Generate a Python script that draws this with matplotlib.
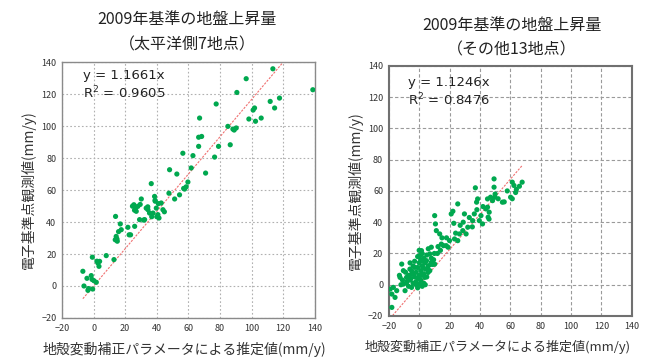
import matplotlib
matplotlib.use("Agg")
import matplotlib.pyplot as plt
import numpy as np

plt.rcParams['font.family'] = ['Noto Sans CJK JP', 'DejaVu Sans']

# left panel: Pacific side, 7 sites
pacific_x = [-6.8, -6.1, -4.2, -3.6, -1.5, -0.8, 0.2, -0.6, 1.7, 2.7, 3.8, 3.4, 8.0,
             12.9, 13.9, 14.3, 14.8, 15.0, 15.8, 16.9, 17.5, 21.7, 23.4, 26.0, 25.5,
             26.6, 27.0, 28.0, 30.2, 29.1, 32.3, 33.3, 34.4, 36.5, 35.4, 37.6, 38.6,
             39.0, 39.7, 40.7, 41.4, 42.8, 43.9, 44.8, 47.7, 48.1, 51.3, 52.7, 54.4,
             56.5, 57.6, 58.6, 59.7, 61.8, 62.9, 66.5, 66.5, 67.1, 68.4, 70.9, 76.6,
             77.6, 79.1, 85.0, 86.5, 88.2, 90.3, 90.7, 96.6, 98.3, 101.9, 102.5, 106.1,
             111.8, 113.5, 114.6, 117.7, 138.8, 24.6, 25.9, 29.5, 34.3, 38.9, 41.0,
             36.8, 40.0, 31.6, 22.5, 13.7, -1.0, -3.2, 2.1, 89.0, 101.0, 57.0]
pacific_y = [9.2, 0.0, 4.8, -2.7, 6.5, 18.0, 3.3, -1.9, 2.3, 14.4, 15.4, 12.3, 19.0,
             16.5, 43.5, 31.0, 29.4, 28.0, 34.0, 38.8, 35.2, 36.7, 32.0, 37.3, 50.8,
             48.7, 46.7, 49.8, 54.4, 41.5, 41.5, 48.7, 47.7, 64.0, 45.6, 45.6, 56.0,
             53.0, 48.7, 44.6, 42.5, 51.9, 47.7, 46.4, 58.0, 72.7, 54.4, 70.0, 57.0,
             83.0, 60.6, 62.0, 65.0, 73.8, 81.5, 87.3, 93.0, 105.0, 93.5, 70.6, 80.6,
             113.8, 87.3, 99.8, 88.3, 98.1, 98.8, 121.0, 129.6, 104.4, 111.3, 103.0, 105.0,
             115.4, 135.8, 111.3, 117.5, 122.7, 49.9, 47.4, 51.0, 49.5, 53.6, 51.5,
             43.3, 43.3, 41.2, 32.0, 28.9, 4.1, -1.6, 15.5, 97.5, 110.0, 61.0]

# right panel: other 13 sites
other_x = [49.3, 37.0, 61.3, 62.4, 67.8, 60.2, 63.5, 61.3, 54.8, 49.3, 49.8, 48.3,
           45.0, 45.0, 46.1, 45.4, 38.5, 37.8, 36.3, 35.2, 39.6, 40.7, 41.7, 43.9,
           29.8, 25.4, 22.2, 21.1, 22.8, 28.7, 30.9, 32.0, 26.5, 25.4, 23.3, 20.0,
           17.8, 14.6, 12.4, 10.7, 11.3, 13.5, 10.2, 7.0, 8.0, 10.2, 4.8, 2.6,
           1.5, 0.4, -2.8, -5.0, -6.1, -8.3, -10.4, -11.5, -12.6, -10.4, -9.3, -14.8,
           -17.0, -18.0, -15.9, -18.0, -19.1, -5.0, 0.4, 3.7, 5.9,
           -8.0, -7.0, -6.0, -5.0, -4.0, -4.0, -3.0, -3.0, -2.0, -2.0, -1.0, -1.0,
           0.0, 0.0, 0.0, 1.0, 1.0, 1.0, 2.0, 2.0, 3.0, 3.0, 4.0, 4.0, 5.0, 5.0,
           6.0, 6.0, 7.0, 8.0, 8.0, 9.0, 10.0, -9.0, -11.0, -12.0, -13.0, -7.0,
           -6.0, -2.0, -1.0, 2.0, 3.0, 4.0, 12.0, 14.0, 15.0, 16.0, 18.0, 19.0,
           24.0, 27.0, 29.0, 33.0, 35.0, 38.0, 42.0, 46.0, 47.0, 50.0, 52.0, 56.0,
           58.0, 64.0, 66.0, -3.5, -0.5, 1.5, 2.5, 5.5, 7.5, -5.5, -8.5, 9.5]
other_y = [67.7, 62.0, 65.6, 63.5, 65.6, 56.0, 59.0, 55.0, 52.8, 62.4, 56.0, 53.8,
           54.9, 49.6, 46.4, 43.2, 54.9, 52.8, 45.3, 41.0, 41.0, 44.2, 38.9, 48.5,
           45.3, 51.7, 47.0, 45.3, 39.3, 34.6, 32.5, 36.8, 32.5, 28.2, 29.3, 28.2,
           25.0, 26.0, 24.4, 38.9, 34.6, 32.5, 44.2, 19.7, 14.3, 13.2, 15.4, 11.1,
           21.8, 18.6, 11.1, 6.8, 10.0, 4.7, 9.0, 13.2, 4.7, 0.4, -3.8, -3.8,
           -1.7, -6.0, -8.1, -14.5, -2.8, -1.7, 0.4, 4.7, 7.9,
           2.0, 6.0, 3.0, 9.0, 1.0, 12.0, 5.0, 15.0, 8.0, 2.0, 11.0, 18.0,
           6.0, 14.0, 22.0, 9.0, 16.0, 3.0, 12.0, 20.0, 7.0, 17.0, 10.0, 14.0, 5.0, 19.0,
           12.0, 23.0, 9.0, 17.0, 24.0, 13.0, 20.0, 8.0, 3.0, 0.0, 6.0, -1.0,
           14.0, 0.0, -2.0, -1.0, 1.0, 0.0, 20.0, 22.0, 30.0, 25.0, 30.0, 24.0,
           33.0, 38.0, 40.0, 43.0, 37.0, 48.0, 50.0, 42.0, 56.0, 58.0, 55.0, 53.0,
           60.0, 61.0, 63.0, 7.0, 4.0, 6.0, 15.0, 10.0, 13.0, 4.0, 1.0, 16.0]

title_main = "2009年基準の地盤上昇量"
subtitles = ["（太平洋側7地点）", "（その他13地点）"]
slopes = [1.1661, 1.1246]
r2_values = ["0.9605", "0.8476"]
ticks = [-20, 0, 20, 40, 60, 80, 100, 120, 140]
xlabel = "地殻変動補正パラメータによる推定値(mm/y)"
ylabel = "電子基準点観測値(mm/y)"

GREEN = "#00a84f"
TREND = "#f07070"

fig = plt.figure(figsize=(6.48, 3.63), dpi=100)
ax_left = fig.add_axes([0.0957, 0.124, 0.390, 0.705])
ax_right = fig.add_axes([0.600, 0.1295, 0.375, 0.689])

# axes, data, index, grid style, grid colour, frame colour, frame width,
# equation x/y (axes fraction), x-label size, x-label centre
panels = [
    (ax_left, pacific_x, pacific_y, 0, (0, (1.5, 2.0)), "#b0b0b0", "#8a8a8a", 1.0,
     0.082, 0.949, 10, 0.485),
    (ax_right, other_x, other_y, 1, (0, (3.0, 2.0)), "#9a9a9a", "#707070", 1.5,
     0.078, 0.932, 9.4, 0.45),
]

for ax, xs, ys, i, grid_ls, grid_c, frame_c, frame_w, tx, ty, xl_size, xl_pos in panels:
    ax.set_xlim(-20, 140)
    ax.set_ylim(-20, 140)
    ax.set_xticks(ticks)
    ax.set_yticks(ticks)
    ax.tick_params(length=0, labelsize=6.5, pad=4, colors="#333333")
    ax.grid(True, linestyle=grid_ls, color=grid_c, linewidth=0.8)
    ax.set_axisbelow(True)
    for sp in ax.spines.values():
        sp.set_color(frame_c)
        sp.set_linewidth(frame_w)

    # trend line through origin over the data range
    line_x = np.array([min(xs), max(xs)])
    ax.plot(line_x, slopes[i] * line_x, color=TREND, linewidth=0.8,
            linestyle=(0, (2.0, 1.2)), zorder=2)
    ax.scatter(xs, ys, s=14, color=GREEN, edgecolors="none", zorder=3)

    ax.text(tx, ty, f"y = {slopes[i]:.4f}x", transform=ax.transAxes,
            fontsize=9.5, color="#222222", va="center", family="DejaVu Sans")
    ax.text(tx, ty - 0.07, f"R$^2$ = {r2_values[i]}", transform=ax.transAxes,
            fontsize=9.5, color="#222222", va="center", family="DejaVu Sans")

    ax.set_xlabel(xlabel, fontsize=xl_size, color="#333333")
    ax.xaxis.set_label_coords(xl_pos, -0.095)
    ax.set_ylabel(ylabel, fontsize=10, color="#333333", labelpad=4)

fig.text(187 / 648, 1 - 19 / 363, title_main, ha="center", va="center",
         fontsize=11.5, color="#222222")
fig.text(187 / 648, 1 - 45 / 363, subtitles[0], ha="center", va="center",
         fontsize=11.5, color="#222222")
fig.text(512 / 648, 1 - 25 / 363, title_main, ha="center", va="center",
         fontsize=11.5, color="#222222")
fig.text(512 / 648, 1 - 50 / 363, subtitles[1], ha="center", va="center",
         fontsize=11.5, color="#222222")

fig.savefig("out.png", dpi=100)
